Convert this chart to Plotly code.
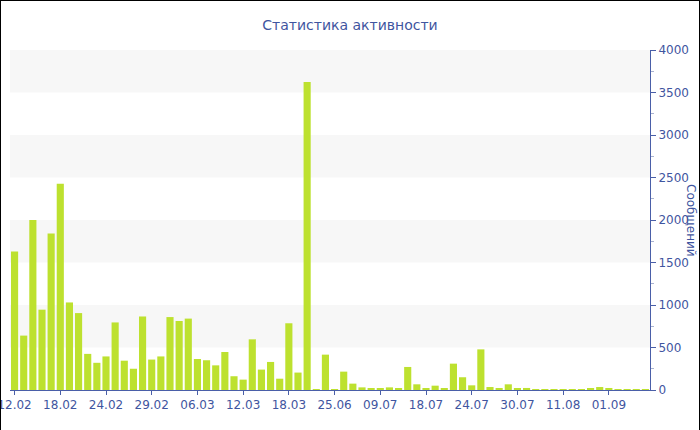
import plotly.graph_objects as go

dates = ["12.02", "13.02", "14.02", "15.02", "17.02", "18.02", "19.02", "20.02", "21.02", "22.02",
         "24.02", "25.02", "26.02", "27.02", "28.02", "29.02", "01.03", "02.03", "03.03", "04.03",
         "06.03", "07.03", "08.03", "09.03", "10.03", "12.03", "13.03", "14.03", "15.03", "16.03",
         "18.03", "19.03", "20.03", "21.06", "24.06", "25.06", "27.06", "29.06", "02.07", "05.07",
         "09.07", "10.07", "12.07", "15.07", "17.07", "18.07", "19.07", "21.07", "22.07", "23.07",
         "24.07", "25.07", "26.07", "28.07", "29.07", "30.07", "01.08", "03.08", "06.08", "09.08",
         "11.08", "14.08", "18.08", "22.08", "27.08", "01.09", "04.09", "08.09", "12.09", "15.09"]

messages = [1630, 640, 2000, 945, 1840, 2425, 1030, 905, 425, 320,
            395, 795, 345, 250, 865, 358, 395, 858, 812, 840,
            365, 350, 290, 447, 162, 122, 596, 240, 330, 133,
            785, 205, 3625, 10, 416, 6, 216, 75, 31, 20,
            20, 31, 20, 271, 67, 20, 51, 20, 310, 150,
            55, 478, 35, 16, 67, 12, 24, 10, 9, 10,
            8, 10, 9, 12, 35, 12, 9, 10, 8, 9]

tick_labels = ["12.02", "18.02", "24.02", "29.02", "06.03", "12.03", "18.03",
               "25.06", "09.07", "18.07", "24.07", "30.07", "11.08", "01.09"]

title_text = "Статистика активности"
y_title = "Сообщений"

blue = "#3f55a0"
axis_blue = "#4a5fa8"

fig = go.Figure(go.Bar(x=dates, y=messages, marker=dict(color="#bde12f", line=dict(width=0))))

shapes = []
for lo in (500, 1500, 2500, 3500):
    shapes.append(dict(type="rect", xref="paper", yref="y", x0=0, x1=1, y0=lo, y1=lo + 500,
                       fillcolor="#f7f7f7", line=dict(width=0), layer="below"))
# page border (left, top, right)
W, H, L, R, T, B = 700, 430, 10, 50, 50, 40
pw, ph = W - L - R, H - T - B
def px(x):
    return (x - L) / pw
def py(y):
    return (H - B - y) / ph
border = dict(color="black", width=1)
shapes.append(dict(type="line", xref="paper", yref="paper", x0=px(0.5), x1=px(0.5), y0=py(0), y1=py(430), line=border))
shapes.append(dict(type="line", xref="paper", yref="paper", x0=px(0), x1=px(700), y0=py(0.5), y1=py(0.5), line=border))
shapes.append(dict(type="line", xref="paper", yref="paper", x0=px(699.5), x1=px(699.5), y0=py(0), y1=py(430), line=border))

fig.update_layout(
    width=W, height=H,
    margin=dict(l=L, r=R, t=T, b=B, autoexpand=False),
    paper_bgcolor="white", plot_bgcolor="white",
    font=dict(family="DejaVu Sans", color=blue, size=12),
    title=dict(text=title_text, x=0.5, xref="container", xanchor="center", y=1 - 25 / H, yanchor="middle",
               font=dict(family="DejaVu Sans", size=14, color=blue)),
    bargap=0.22,
    showlegend=False,
    shapes=shapes,
    annotations=[dict(text=y_title, xref="paper", yref="paper", x=px(691), y=0.5, showarrow=False,
                      textangle=90, font=dict(family="DejaVu Sans", size=12, color=blue),
                      xanchor="center", yanchor="middle")],
)

fig.update_xaxes(type="category", tickmode="array", tickvals=tick_labels, ticktext=tick_labels,
                 showgrid=False, showline=True, linecolor=axis_blue, linewidth=1, automargin=False,
                 ticks="outside", ticklen=4, tickcolor=axis_blue, tickangle=0,
                 tickfont=dict(size=12, color=blue), range=[-0.5, len(dates) - 0.5], fixedrange=True)
fig.update_yaxes(side="right", range=[0, 4000], dtick=500, showgrid=False, zeroline=False,
                 showline=True, linecolor=axis_blue, linewidth=1, automargin=False,
                 ticks="outside", ticklen=5, tickcolor=axis_blue,
                 minor=dict(dtick=250, ticks="outside", ticklen=3, tickcolor="#aab3d0"),
                 tickfont=dict(size=12, color=blue))

fig.write_html("out.html", config={"displayModeBar": False},
               post_script="document.body.style.margin='0';document.body.style.overflow='hidden';")
